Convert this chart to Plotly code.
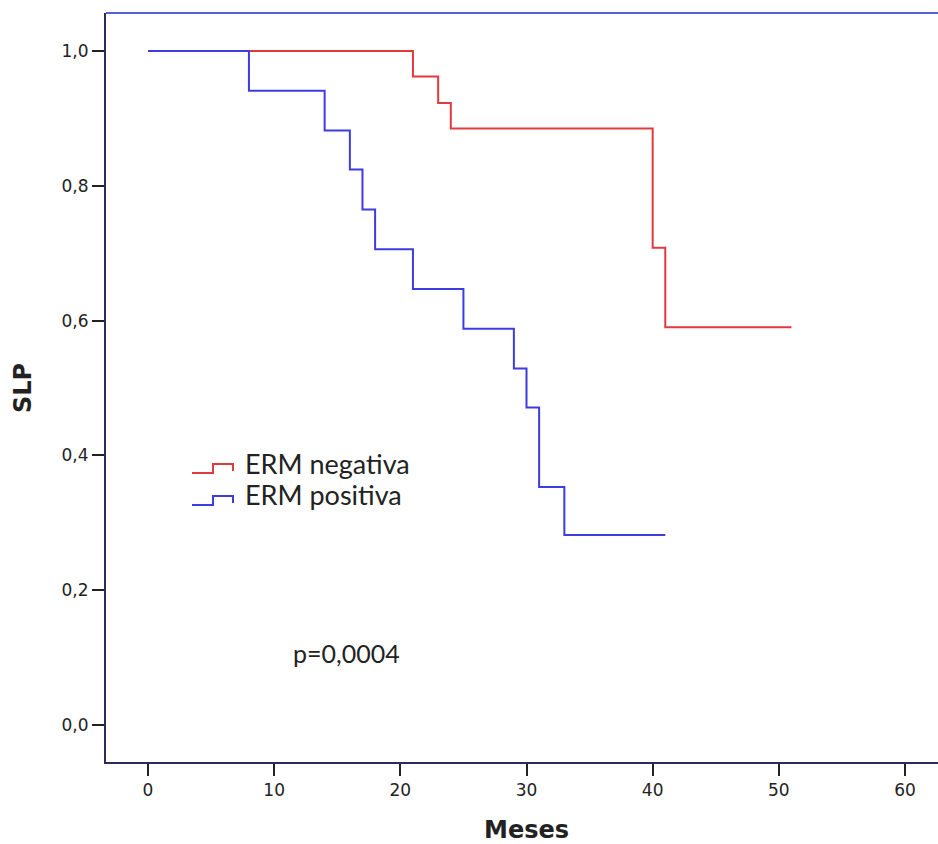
import plotly.graph_objects as go

# Kaplan-Meier data (months, survival)
neg_time = [0, 21, 23, 24, 40, 41, 51]
neg_surv = [1.0, 0.962, 0.923, 0.885, 0.708, 0.590, 0.590]
pos_time = [0, 8, 14, 16, 17, 18, 21, 25, 29, 30, 31, 33, 41]
pos_surv = [1.0, 0.941, 0.882, 0.824, 0.765, 0.706, 0.647, 0.588, 0.529, 0.471, 0.353, 0.282, 0.282]
series_names = ["ERM negativa", "ERM positiva"]
x_ticks = [0, 10, 20, 30, 40, 50, 60]
y_ticks = [0.0, 0.2, 0.4, 0.6, 0.8, 1.0]

RED = "#e03a3e"
BLUE = "#3c3ce0"
AXIS = "#2b2b5c"

W, H = 938, 844
L, R, T, B = 106, 0, 13, 82
pw, ph = W - L - R, H - T - B

def px(xp):
    return (xp - L) / pw

def py(yp):
    return (H - B - yp) / ph

fig = go.Figure()
fig.add_trace(go.Scatter(x=neg_time, y=neg_surv, mode="lines", line=dict(color=RED, width=2, shape="hv"),
                         name=series_names[0], showlegend=False))
fig.add_trace(go.Scatter(x=pos_time, y=pos_surv, mode="lines", line=dict(color=BLUE, width=2, shape="hv"),
                         name=series_names[1], showlegend=False))

shapes = [
    dict(type="line", xref="paper", yref="paper", x0=0, x1=1, y0=1, y1=1,
         line=dict(color="#5562d6", width=2)),
]
# legend glyphs (step-shaped)
for i, (col, yc) in enumerate([(RED, 468), (BLUE, 500)]):
    path = (f"M {px(192)},{py(yc+5)} L {px(213)},{py(yc+5)} L {px(213)},{py(yc-4)} "
            f"L {px(233)},{py(yc-4)} L {px(233)},{py(yc+3)}")
    shapes.append(dict(type="path", xref="paper", yref="paper", path=path,
                       line=dict(color=col, width=2)))

LEG_FONT = "Lato, Open Sans, sans-serif"
TITLE_FONT = "DejaVu Sans, Verdana, sans-serif"
annotations = [
    dict(text=series_names[0], xref="paper", yref="paper", x=px(243), y=py(463),
         xanchor="left", yanchor="middle", showarrow=False,
         font=dict(family=LEG_FONT, size=27, color="#222")),
    dict(text=series_names[1], xref="paper", yref="paper", x=px(243), y=py(495),
         xanchor="left", yanchor="middle", showarrow=False,
         font=dict(family=LEG_FONT, size=27, color="#222")),
    dict(text="p=0,0004", xref="paper", yref="paper", x=px(291), y=py(653),
         xanchor="left", yanchor="middle", showarrow=False,
         font=dict(family=LEG_FONT, size=25, color="#222")),
    dict(text="<b>Meses</b>", xref="paper", yref="paper", x=px(526), y=py(830),
         xanchor="center", yanchor="middle", showarrow=False,
         font=dict(family=TITLE_FONT, size=24, color="#222")),
    dict(text="<b>SLP</b>", xref="paper", yref="paper", x=px(23), y=py(388),
         xanchor="center", yanchor="middle", showarrow=False, textangle=-90,
         font=dict(family=TITLE_FONT, size=24, color="#222")),
]

ppu_x = (905 - 148) / 60.0
x0 = -(148 - L) / ppu_x
x1 = x0 + pw / ppu_x
ppu_y = (725 - 51) / 1.0
y0 = -(H - B - 725) / ppu_y
y1 = y0 + ph / ppu_y

fig.update_layout(
    width=W, height=H,
    margin=dict(l=L, r=R, t=T, b=B, pad=0),
    paper_bgcolor="white", plot_bgcolor="white",
    separators=",.",
    shapes=shapes, annotations=annotations,
    xaxis=dict(range=[x0, x1], tickvals=x_ticks, showgrid=False, zeroline=False,
               showline=True, linecolor=AXIS, linewidth=2, ticks="outside", ticklen=12,
               tickwidth=2, tickcolor="#222",
               tickfont=dict(family=TITLE_FONT, size=17, color="#222")),
    yaxis=dict(range=[y0, y1], tickvals=y_ticks, tickformat=".1f", showgrid=False, zeroline=False,
               showline=True, linecolor=AXIS, linewidth=2, ticks="outside", ticklen=12,
               tickwidth=2, tickcolor="#222",
               tickfont=dict(family=TITLE_FONT, size=17, color="#222")),
)

fig.write_html("out.html")
